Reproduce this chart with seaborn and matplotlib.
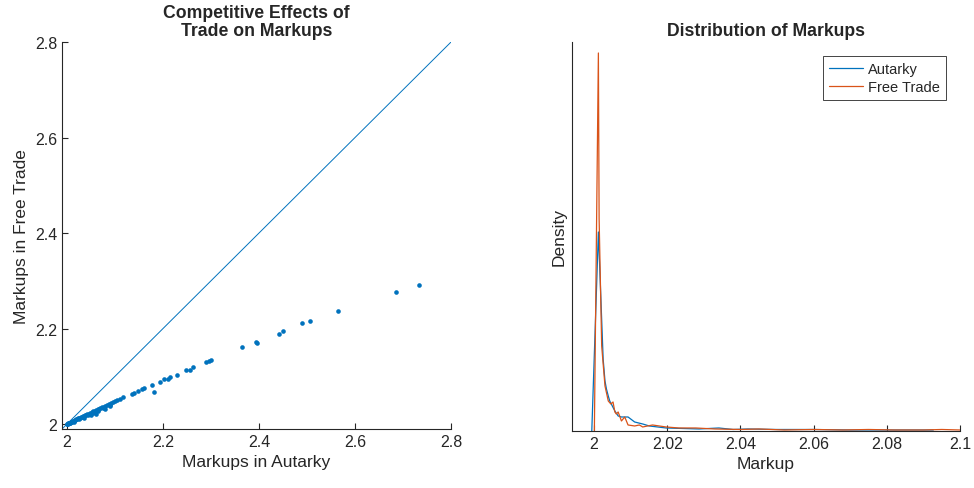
# Markups: autarky vs free trade, plus the markup densities
import numpy as np
import pandas as pd
import seaborn as sns
import matplotlib.pyplot as plt

# firm markups
markup_autarky = [
    2.000, 2.001, 2.002, 2.003, 2.004, 2.005, 2.006, 2.007, 2.008, 2.009,
    2.010, 2.012, 2.013, 2.015, 2.017, 2.018, 2.020, 2.022, 2.024, 2.026,
    2.028, 2.030, 2.032, 2.034, 2.036, 2.038, 2.040, 2.043, 2.046, 2.049,
    2.050, 2.052, 2.055, 2.058, 2.060, 2.061, 2.064, 2.067, 2.070, 2.073,
    2.077, 2.080, 2.080, 2.084, 2.088, 2.090, 2.090, 2.092, 2.096, 2.100,
    2.105, 2.110, 2.117, 2.135, 2.140, 2.149, 2.157, 2.160, 2.177, 2.181,
    2.194, 2.203, 2.211, 2.215, 2.230, 2.248, 2.257, 2.263, 2.290, 2.296,
    2.301, 2.365, 2.393, 2.396, 2.442, 2.451, 2.489, 2.506, 2.564, 2.686,
    2.734, 2.015, 2.025, 2.035, 2.045, 2.055, 2.065, 2.075,
]
markup_free_trade = [
    2.000, 2.0005, 2.001, 2.0015, 2.002, 2.0025, 2.003, 2.0035, 2.004, 2.0045,
    2.005, 2.006, 2.0065, 2.0075, 2.008, 2.009, 2.010, 2.011, 2.012, 2.013,
    2.0135, 2.015, 2.015, 2.017, 2.017, 2.019, 2.020, 2.021, 2.022, 2.024,
    2.019, 2.025, 2.027, 2.028, 2.022, 2.030, 2.031, 2.032, 2.034, 2.035,
    2.037, 2.031, 2.039, 2.040, 2.043, 2.039, 2.040, 2.044, 2.046, 2.049,
    2.051, 2.052, 2.056, 2.063, 2.066, 2.069, 2.073, 2.075, 2.082, 2.067,
    2.089, 2.094, 2.094, 2.099, 2.104, 2.113, 2.113, 2.119, 2.130, 2.132,
    2.135, 2.161, 2.172, 2.170, 2.188, 2.195, 2.211, 2.216, 2.236, 2.276,
    2.292, 2.005, 2.010, 2.014, 2.019, 2.023, 2.028, 2.033,
]
diag = [1.99, 2.8]

# kernel density curves
dens_x_aut = [1.9994, 2.0012, 2.0025, 2.0030, 2.0034, 2.0039, 2.0043, 2.0057,
              2.0066, 2.0075, 2.0084, 2.0093, 2.0111, 2.0133, 2.0151, 2.0197,
              2.0287, 2.0341, 2.0380, 2.0420, 2.0500, 2.0600, 2.0700, 2.0800,
              2.0927]
dens_y_aut = [0, 199, 72, 50, 42, 35, 30, 20, 15, 14, 14, 14, 9, 7, 5, 3,
              2, 3, 1.5, 2, 1.5, 1.5, 1, 1, 1]
dens_x_ft = [2.0001, 2.0012, 2.0014, 2.0021, 2.0030, 2.0039, 2.0046, 2.0052,
             2.0057, 2.0061, 2.0066, 2.0075, 2.0084, 2.0093, 2.0111, 2.0124,
             2.0133, 2.0160, 2.0197, 2.0232, 2.0278, 2.0330, 2.0400, 2.0450,
             2.0520, 2.0600, 2.0680, 2.0750, 2.0820, 2.0900, 2.0950, 2.1000]
dens_y_ft = [0, 378, 212, 85, 45, 30, 27, 29, 19, 17, 19, 10, 14, 6, 5, 6,
             4, 6, 4, 3, 3, 2, 1.5, 2, 1, 1.5, 1, 1.5, 1, 1, 1.5, 1]

blue = "#0072BD"
orange = "#D95319"
axcol = "#262626"

sns.set_style("ticks")
plt.rcParams["font.family"] = ["Liberation Sans", "DejaVu Sans"]
plt.rcParams["xtick.direction"] = "in"
plt.rcParams["ytick.direction"] = "in"

fig = plt.figure(figsize=(9.74, 4.89), dpi=100)
ax1 = fig.add_axes([0.0637, 0.1207, 0.3994, 0.7914])
ax2 = fig.add_axes([0.5873, 0.1166, 0.3984, 0.7955])

# left panel
sns.lineplot(x=diag, y=diag, ax=ax1, color=blue, linewidth=0.7)
sns.scatterplot(x=markup_autarky, y=markup_free_trade, ax=ax1, color=blue,
                s=11, marker="o", linewidth=0)
ax1.set_xlim(1.99, 2.8)
ax1.set_ylim(1.99, 2.8)
ax1.set_xticks([2, 2.2, 2.4, 2.6, 2.8])
ax1.set_xticklabels(["2", "2.2", "2.4", "2.6", "2.8"])
ax1.set_yticks([2, 2.2, 2.4, 2.6, 2.8])
ax1.set_yticklabels(["2", "2.2", "2.4", "2.6", "2.8"])
ax1.set_xlabel("Markups in Autarky", fontsize=12.5, color=axcol)
ax1.set_ylabel("Markups in Free Trade", fontsize=12.5, color=axcol)
ax1.set_title("Competitive Effects of\nTrade on Markups", fontsize=12.7,
              fontweight="bold", pad=5, linespacing=1.05)

# right panel
dens = pd.concat([
    pd.DataFrame({"Markup": dens_x_aut, "Density": dens_y_aut, "case": "Autarky"}),
    pd.DataFrame({"Markup": dens_x_ft, "Density": dens_y_ft, "case": "Free Trade"}),
])
sns.lineplot(data=dens, x="Markup", y="Density", hue="case", ax=ax2,
             palette=[blue, orange], linewidth=0.9, sort=False,
             estimator=None)
ax2.set_xlim(1.994, 2.1)
ax2.set_ylim(0, 389)
ax2.set_xticks([2, 2.02, 2.04, 2.06, 2.08, 2.1])
ax2.set_xticklabels(["2", "2.02", "2.04", "2.06", "2.08", "2.1"])
ax2.set_yticks([])
ax2.set_xlabel("Markup", fontsize=12.5, color=axcol)
ax2.set_ylabel("Density", fontsize=12.5, color=axcol)
ax2.set_title("Distribution of Markups", fontsize=12.7, fontweight="bold", pad=5)
leg = ax2.legend(loc="upper right", fontsize=10.5, frameon=True, fancybox=False,
                 framealpha=1, edgecolor="#262626", handlelength=2.3,
                 borderaxespad=0.95, borderpad=0.45, labelspacing=0.22,
                 handletextpad=0.35)
leg.get_frame().set_linewidth(0.6)
leg.set_title(None)

for ax in (ax1, ax2):
    sns.despine(ax=ax)
    for s in ("left", "bottom"):
        ax.spines[s].set_color(axcol)
        ax.spines[s].set_linewidth(0.8)
    ax.tick_params(labelsize=11.5, colors=axcol, length=4, width=0.8)

fig.savefig("out.png", dpi=100)
